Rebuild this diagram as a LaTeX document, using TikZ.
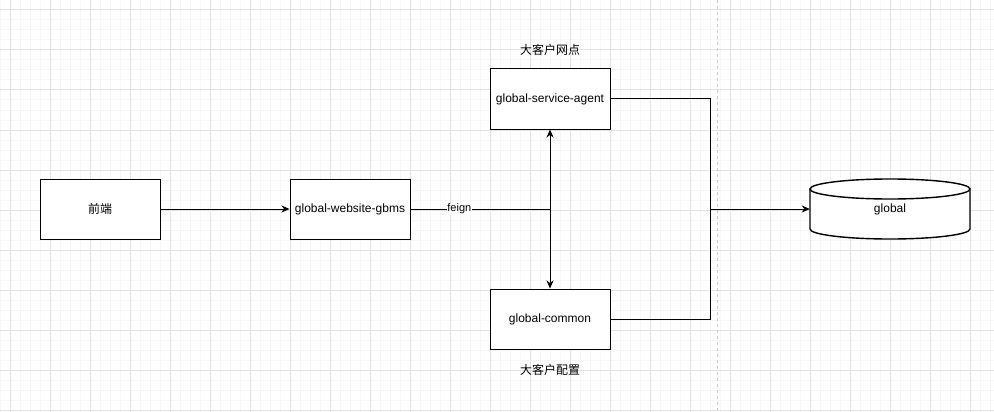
\documentclass[tikz,border=0pt]{standalone}
\usepackage{fontspec}
\setmainfont{Liberation Sans}
\newfontfamily\cjk{Noto Sans CJK SC}
\usetikzlibrary{arrows.meta}
\definecolor{gridmajor}{HTML}{E2E2E2}
\definecolor{gridminor}{HTML}{F6F6F6}
\definecolor{sepline}{HTML}{C8C8C8}
\begin{document}
\begin{tikzpicture}[x=1pt,y=-1pt,
  box/.style={draw=black, line width=1pt, fill=white, minimum width=120pt, minimum height=60pt, inner sep=0pt, font=\fontsize{12}{14}\selectfont},
  lbl/.style={font=\cjk\fontsize{12}{14}\selectfont, inner sep=0pt},
  conn/.style={draw=black, line width=1pt},
  arr/.style={-{Stealth[length=8pt,width=7pt,inset=2.5pt]}}
]
\useasboundingbox (0,0) rectangle (994,412);
\fill[white] (0,0) rectangle (994,412);
% grid
\foreach \x in {0,10,...,990} {\draw[gridminor, line width=1pt] (\x,0) -- (\x,412);}
\foreach \y in {0,10,...,410} {\draw[gridminor, line width=1pt] (0,\y) -- (994,\y);}
\foreach \x in {10,50,...,990} {\draw[gridmajor, line width=1pt] (\x,0) -- (\x,412);}
\foreach \y in {10,50,...,410} {\draw[gridmajor, line width=1pt] (0,\y) -- (994,\y);}
% separator
\draw[sepline, line width=1pt, dash pattern=on 3pt off 3pt] (717,0) -- (717,412);
% nodes
\node[box] (fe) at (100,209) {\cjk 前端};
\node[box] (gbms) at (350,209) {global-website-gbms};
\node[box] (agent) at (550,99) {global-service-agent};
\node[box] (common) at (550,319) {global-common};
\node[lbl] (lagent) at (550,50) {大客户网点};
\node[lbl] (lcommon) at (550,370) {大客户配置};
% cylinder
\draw[line width=1.4pt, fill=white] (810,189) -- (810,229) arc[start angle=180, end angle=0, x radius=80, y radius=10] -- (970,189) -- cycle;
\draw[line width=1.4pt, fill=white] (890,189) ellipse [x radius=80, y radius=10];
\node[inner sep=0pt, minimum width=160pt, minimum height=60pt, font=\fontsize{12}{14}\selectfont] (db) at (890,209) {global};
\coordinate (j) at (550,209);
\coordinate (m) at (710,209);
% connectors
\draw[conn, arr] (fe.east) -- (gbms.west);
\draw[conn] (gbms.east) -- node[pos=0.35, fill=white, inner sep=0.5pt, font=\fontsize{11}{13}\selectfont] {feign} (j);
\draw[conn, arr] (j) -- (agent.south);
\draw[conn, arr] (j) -- (common.north);
\draw[conn] (agent.east) -| (m);
\draw[conn] (common.east) -| (m);
\draw[conn, arr] (m) -- (db.west);
\end{tikzpicture}
\end{document}
